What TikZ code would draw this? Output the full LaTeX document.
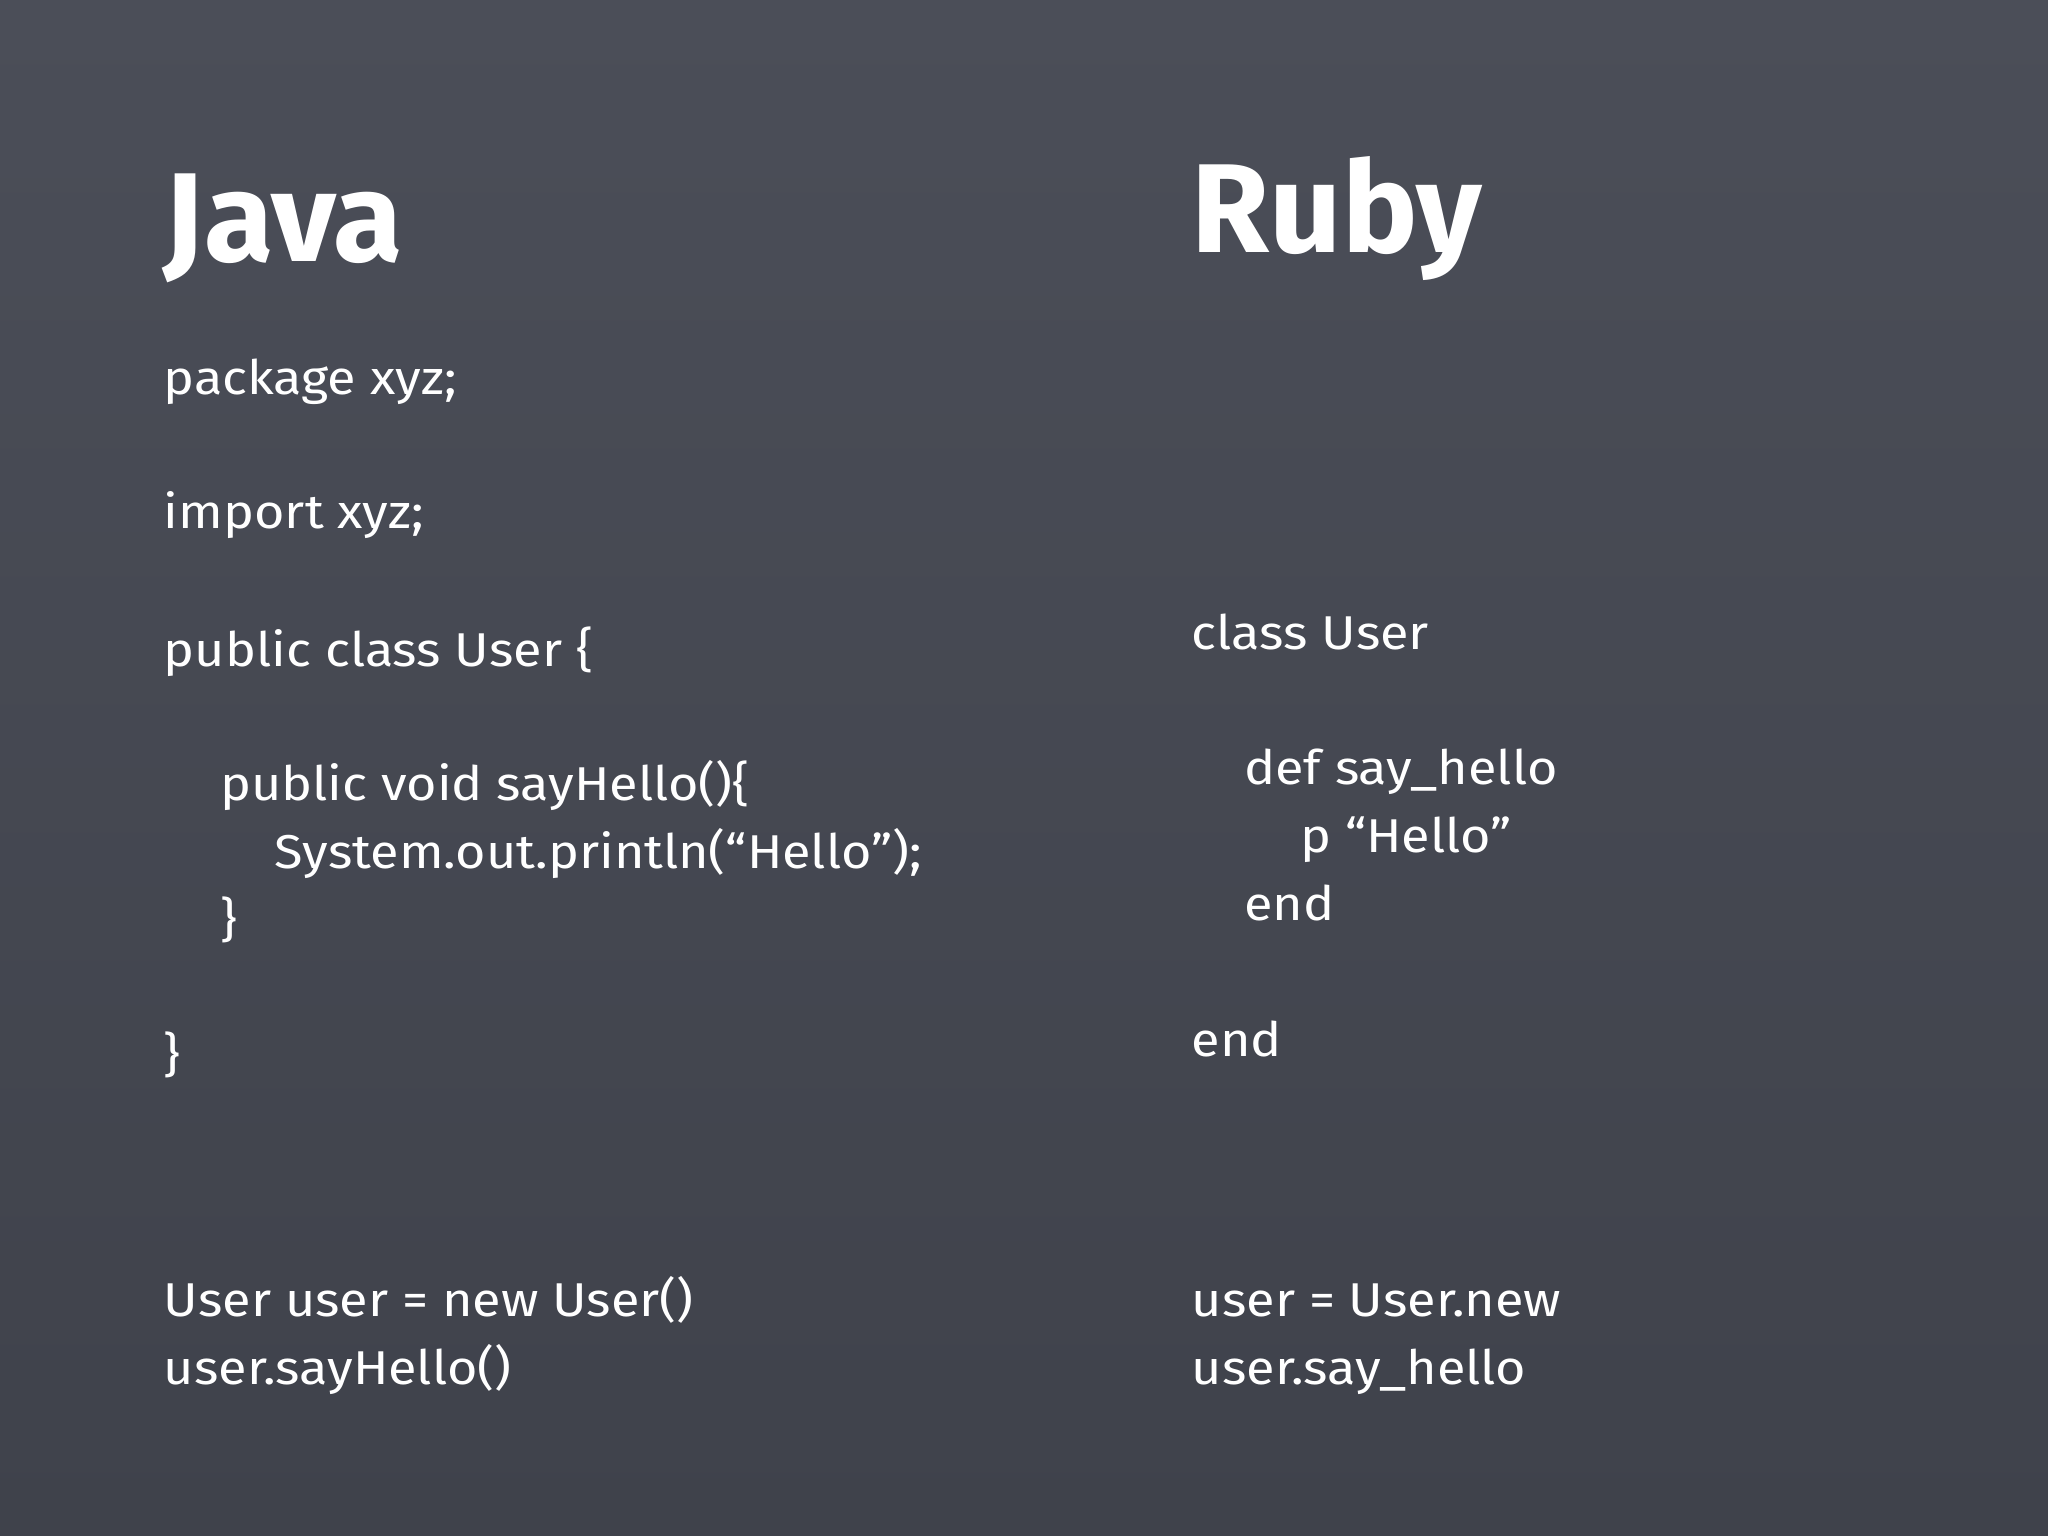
\documentclass[tikz,border=0pt]{standalone}
\usepackage{fontspec}
\setmainfont{Fira Sans}
\newfontfamily\codefont[FakeStretch=1.1]{Fira Sans}
\definecolor{board}{HTML}{4B4E58}
\definecolor{boarddark}{HTML}{3F424B}
\tikzset{
  code/.style={anchor=base west, text=white, font=\codefont\fontsize{13.5}{16}\selectfont, inner sep=0pt},
  title/.style={anchor=base west, text=white, font=\fontsize{36}{40}\bfseries\selectfont, inner sep=0pt}
}
\begin{document}
\begin{tikzpicture}[x=0.01306cm,y=-0.01306cm]
\shade[top color=board, bottom color=boarddark] (0,0) rectangle (1568,1176);
\useasboundingbox (0,0) rectangle (1568,1176);
\node[title] (java) at (125,200) {Java};
\node[title] (ruby) at (912,193) {Ruby};
\node[code] (j1) at (125,302) {package xyz;};
\node[code] (j2) at (125,405) {import xyz;};
\node[code] (j3) at (125,510) {public class User \{};
\node[code] (j4) at (168,613) {public void sayHello()\{};
\node[code] (j5) at (210,665) {System.out.println(“Hello”);};
\node[code] (j6) at (168,717) {\}};
\node[code] (j7) at (125,820) {\}};
\node[code] (j8) at (125,1008) {User user = new User()};
\node[code] (j9) at (125,1060) {user.sayHello()};
\node[code] (r1) at (912,497) {class User};
\node[code] (r2) at (952,601) {def say\_hello};
\node[code] (r3) at (995,653) {p “Hello”};
\node[code] (r4) at (952,705) {end};
\node[code] (r5) at (912,809) {end};
\node[code] (r6) at (912,1008) {user = User.new};
\node[code] (r7) at (912,1060) {user.say\_hello};
\end{tikzpicture}
\end{document}
